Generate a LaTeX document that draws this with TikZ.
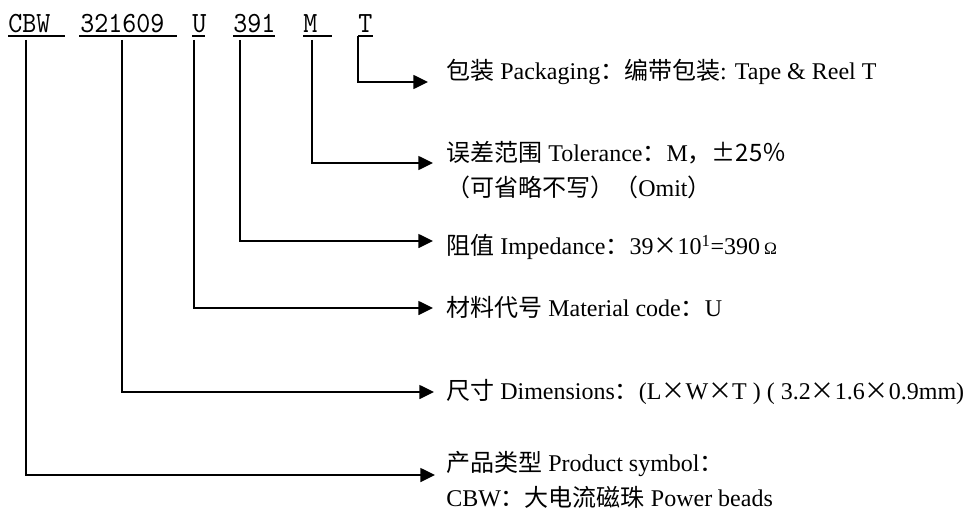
\documentclass[tikz,border=0pt]{standalone}
\usepackage{fontspec}
\setmainfont{Liberation Serif}
\newfontfamily\cjk{Noto Sans CJK SC}
\newfontfamily\codefont[FakeStretch=0.91]{lmmono10-regular.otf}
\usetikzlibrary{arrows.meta,calc}
\begin{document}
\begin{tikzpicture}[x=0.75pt,y=-0.75pt]
            \tikzstyle{code}=[inner sep=0,anchor=base west,font=\codefont\fontsize{22pt}{24pt}\selectfont]
            \tikzstyle{lbl}=[inner sep=0,anchor=west,align=left,font=\fontsize{18pt}{26.25pt}\selectfont]
            \tikzstyle{uline}=[line width=1.4pt]
            \tikzstyle{conn}=[line width=1.1pt,-{Triangle[length=11pt,width=10.5pt]}]

            \useasboundingbox (0,0) rectangle (966,510);

            %part_number
            \node[code] (cbw) at (8,33) {CBW};
            \node[code] (size) at (80,33) {321609};
            \node[code] (mat) at (192,33) {U};
            \node[code] (imp) at (233,33) {391};
            \node[code] (tol) at (303,33) {M};
            \node[code] (pack) at (358,33) {T};

            \draw[uline] ($(cbw.base west)+(0,3)$) -- ++(57,0);
            \draw[uline] ($(size.base west)+(-1,3)$) -- ++(98,0);
            \draw[uline] ($(mat.base west)+(0,3)$) -- ++(13,0);
            \draw[uline] ($(imp.base west)+(0,3)$) -- ++(42,0);
            \draw[uline] ($(tol.base west)+(0,3)$) -- ++(29,0);
            \draw[uline] ($(pack.base west)+(0,3)$) -- ++(15,0);

            %descriptions
            \node[lbl] (lpack) at (446,72) {{\cjk 包装} Packaging{\cjk ：编带包装}: Tape \& Reel T};
            \node[lbl] (ltol) at (446,170.5) {{\cjk 误差范围} Tolerance{\cjk ：}M{\cjk ，±25％}\\{\cjk （可省略不写）（}Omit{\cjk ）}};
            \node[lbl] (limp) at (446,247) {{\cjk 阻值} Impedance{\cjk ：}39{\cjk ×}10\textsuperscript{1}=390\,{\fontsize{13pt}{13pt}\selectfont Ω}};
            \node[lbl] (lmat) at (446,307) {{\cjk 材料代号} Material code{\cjk ：}U};
            \node[lbl] (ldim) at (446,392) {{\cjk 尺寸} Dimensions{\cjk ：}(L{\cjk ×}W{\cjk ×}T ) ( 3.2{\cjk ×}1.6{\cjk ×}0.9mm)};
            \node[lbl] (lprod) at (446,479.5) {{\cjk 产品类型} Product symbol{\cjk ：}\\CBW{\cjk ：大电流磁珠} Power beads};

            %arrow_ends
            \coordinate (apack) at (428,82);
            \coordinate (atol) at (433,163);
            \coordinate (aimp) at (433,241);
            \coordinate (amat) at (433,308);
            \coordinate (adim) at (434,392);
            \coordinate (aprod) at (435,475);

            \draw[conn] ($(pack.base west)+(0,3)$) |- (apack);
            \draw[conn] ($(tol.base west)+(9,7)$) |- (atol);
            \draw[conn] ($(imp.base west)+(7,7)$) |- (aimp);
            \draw[conn] ($(mat.base west)+(2,7)$) |- (amat);
            \draw[conn] ($(size.base west)+(42,7)$) |- (adim);
            \draw[conn] ($(cbw.base west)+(18,7)$) |- (aprod);

       \end{tikzpicture}
\end{document}
